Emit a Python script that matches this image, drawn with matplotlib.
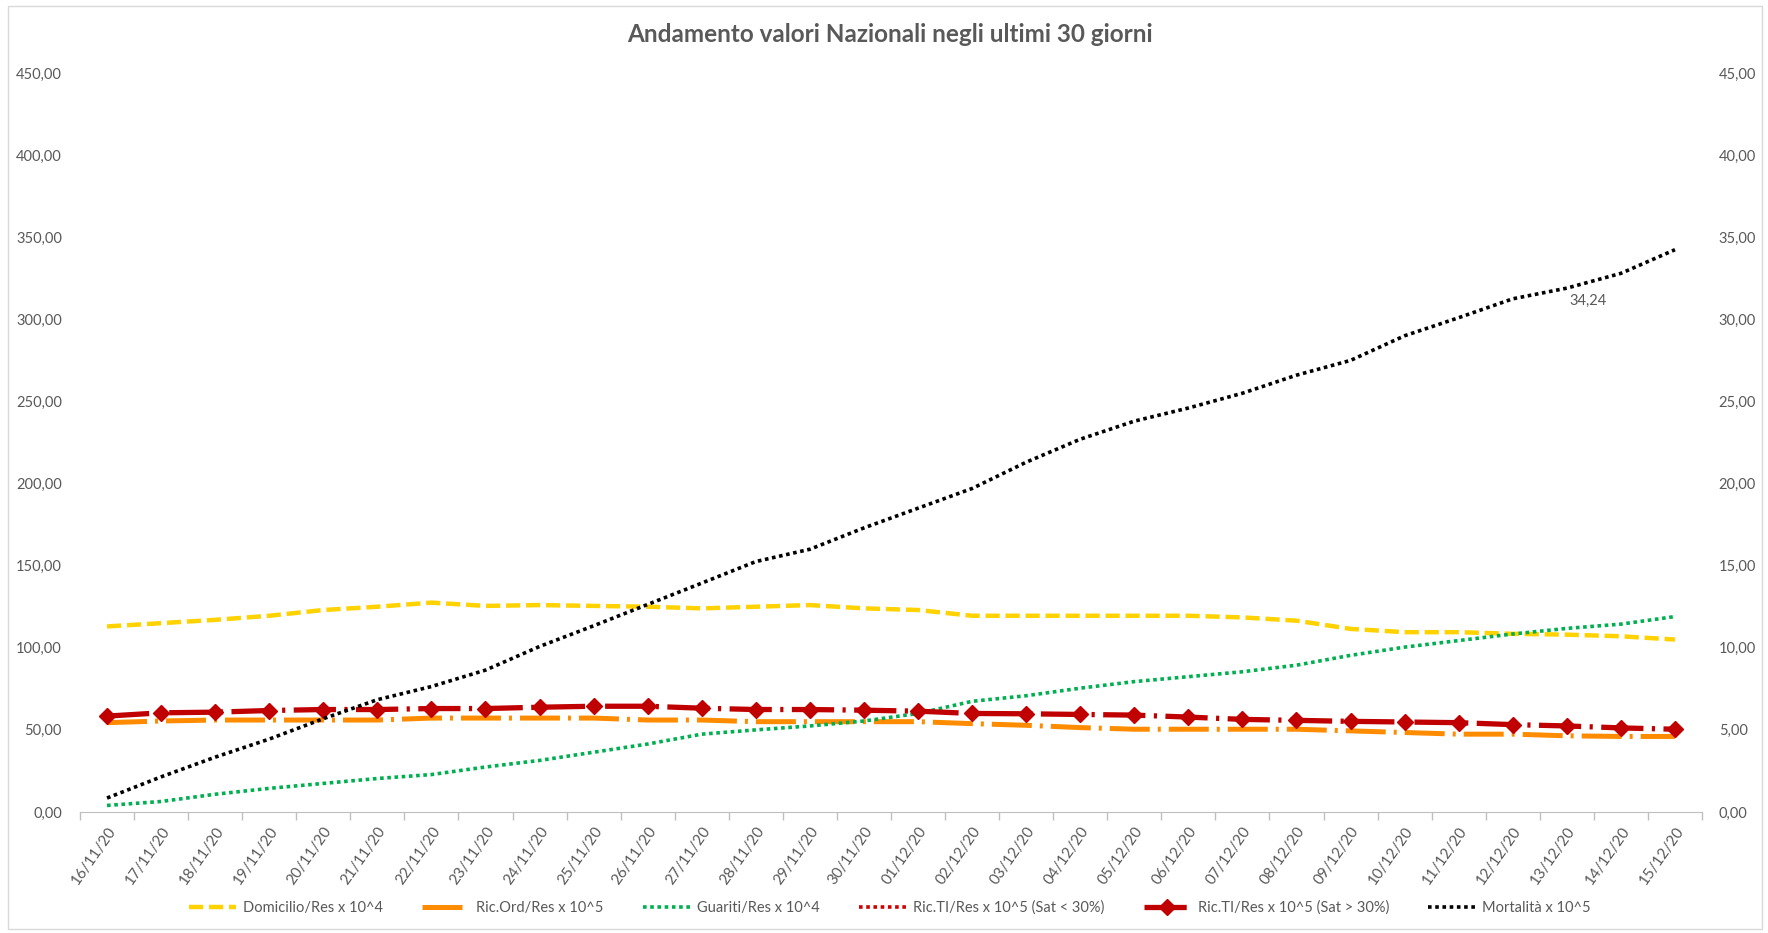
import numpy as np
import matplotlib
matplotlib.use("Agg")
import matplotlib.pyplot as plt
from matplotlib.patches import Rectangle

# ----------------------------------------------------
# DATA
# ----------------------------------------------------
dates = ["16/11/20", "17/11/20", "18/11/20", "19/11/20", "20/11/20", "21/11/20",
         "22/11/20", "23/11/20", "24/11/20", "25/11/20", "26/11/20", "27/11/20",
         "28/11/20", "29/11/20", "30/11/20", "01/12/20", "02/12/20", "03/12/20",
         "04/12/20", "05/12/20", "06/12/20", "07/12/20", "08/12/20", "09/12/20",
         "10/12/20", "11/12/20", "12/12/20", "13/12/20", "14/12/20", "15/12/20"]

domicilio = [113.0, 115.0, 117.0, 119.5, 123.0, 125.0, 127.5, 125.5, 126.0, 125.5,
             125.0, 124.0, 125.0, 126.0, 124.0, 123.0, 119.5, 119.5, 119.5, 119.5,
             119.5, 118.5, 116.5, 111.5, 109.5, 109.5, 108.5, 108.0, 107.0, 105.0]

ric_ord = [54.4, 55.4, 56.0, 56.0, 56.0, 56.0, 57.2, 57.2, 57.2, 57.2,
           56.0, 56.0, 55.0, 55.0, 55.0, 55.0, 53.8, 52.8, 51.4, 50.4,
           50.4, 50.4, 50.4, 49.4, 48.4, 47.4, 47.4, 46.4, 46.0, 46.0]

guariti = [4.0, 6.4, 10.8, 14.4, 17.4, 20.4, 22.8, 27.4, 31.4, 36.4,
           41.4, 47.4, 50.0, 52.4, 55.4, 60.0, 67.4, 70.8, 75.4, 79.4,
           82.4, 85.4, 89.4, 95.4, 100.4, 104.4, 108.4, 111.8, 114.4, 119.0]

# serie presente solo in legenda (nessun valore nel periodo)
ric_ti_low = [np.nan] * 30

ric_ti_high = [58.4, 60.4, 60.8, 61.8, 62.4, 62.4, 63.0, 63.0, 63.8, 64.4,
               64.4, 63.2, 62.4, 62.4, 62.0, 61.4, 60.0, 59.8, 59.4, 59.0,
               57.8, 56.4, 55.8, 55.2, 54.8, 54.4, 53.2, 52.4, 51.2, 50.4]

mortalita = [0.85, 2.14, 3.34, 4.44, 5.68, 6.84, 7.64, 8.64, 10.08, 11.34,
             12.64, 13.94, 15.25, 16.0, 17.3, 18.5, 19.7, 21.3, 22.7, 23.8,
             24.6, 25.5, 26.6, 27.5, 29.0, 30.1, 31.25, 31.9, 32.8, 34.24]

left_ticks = [0, 50, 100, 150, 200, 250, 300, 350, 400, 450]
right_ticks = [0, 5, 10, 15, 20, 25, 30, 35, 40, 45]

# ----------------------------------------------------
# STYLE
# ----------------------------------------------------
plt.rcParams["font.family"] = ["Lato", "DejaVu Sans"]
GREY = "#595959"

W, H = 1768, 933
fig = plt.figure(figsize=(W / 100, H / 100), dpi=100)
ax = fig.add_axes([80 / W, 1 - 812 / H, (1702 - 80) / W, (812 - 73) / H])
ax2 = ax.twinx()

x = np.arange(len(dates))

ax.plot(x, domicilio, color="#FFD200", lw=3.2, dashes=(3.2, 1.3),
        label="Domicilio/Res x 10^4")
ax.plot(x, ric_ord, color="#FF8C00", lw=3.6, dashes=(8, 1.6, 0.6, 1.6),
        label="Ric.Ord/Res x 10^5")
ax.plot(x, guariti, color="#00B050", lw=2.6, dashes=(1, 1),
        label="Guariti/Res x 10^4")
ax.plot(x, ric_ti_low, color="#D00000", lw=2.6, dashes=(1, 1),
        label="Ric.TI/Res x 10^5 (Sat < 30%)")
ax.plot(x, ric_ti_high, color="#C00000", lw=3.8, dashes=(8, 1.6, 0.6, 1.6),
        marker="D", markersize=8, label="Ric.TI/Res x 10^5 (Sat > 30%)")
ax2.plot(x, mortalita, color="black", lw=2.6, dashes=(1, 1),
         label="Mortalità x 10^5")

# etichetta ultimo valore
ax2.text(27.4, 31.1, f"{mortalita[-1]:.2f}".replace(".", ","),
         ha="center", va="center", fontsize=10.5, color=GREY)

# ----------------------------------------------------
# AXES
# ----------------------------------------------------
ax.set_xlim(-0.5, len(dates) - 0.5)
ax.set_ylim(0, 450)
ax2.set_ylim(0, 45)

ax.set_yticks(left_ticks)
ax.set_yticklabels([f"{v:.2f}".replace(".", ",") for v in left_ticks])
ax2.set_yticks(right_ticks)
ax2.set_yticklabels([f"{v:.2f}".replace(".", ",") for v in right_ticks])

ax.set_xticks(x)
ax.set_xticklabels(dates, rotation=55, ha="right", rotation_mode="anchor")
ax.set_xticks(np.arange(-0.5, len(dates)), minor=True)
ax.tick_params(axis="x", which="major", length=0, pad=9, labelsize=11,
               colors=GREY)
ax.tick_params(axis="x", which="minor", length=6, color="#BFBFBF", width=1)
ax.tick_params(axis="y", length=0, pad=13, labelsize=10.5, colors=GREY)
ax2.tick_params(axis="y", length=0, pad=12, labelsize=10.5, colors=GREY)

for a in (ax, ax2):
    for side in ("top", "left", "right"):
        a.spines[side].set_visible(False)
ax.spines["bottom"].set_color("#BFBFBF")
ax2.spines["bottom"].set_visible(False)

fig.text(890 / W, 1 - 34 / H, "Andamento valori Nazionali negli ultimi 30 giorni",
         ha="center", va="center", fontsize=17.5, fontweight="bold", color=GREY)

# ----------------------------------------------------
# LEGEND
# ----------------------------------------------------
h1, l1 = ax.get_legend_handles_labels()
h2, l2 = ax2.get_legend_handles_labels()
fig.legend(h1 + h2, l1 + l2, loc="center", bbox_to_anchor=(890 / W, 1 - 908 / H),
           ncol=6, frameon=False, fontsize=10.5, labelcolor=GREY,
           handlelength=3.2, columnspacing=2.7, handletextpad=0.5)

# bordo del grafico
fig.patches.append(Rectangle((8 / W, 4 / H), (W - 14) / W, (H - 10) / H,
                             transform=fig.transFigure, fill=False,
                             edgecolor="#D9D9D9", lw=1))

fig.savefig("out.png", dpi=100)
plt.close(fig)
